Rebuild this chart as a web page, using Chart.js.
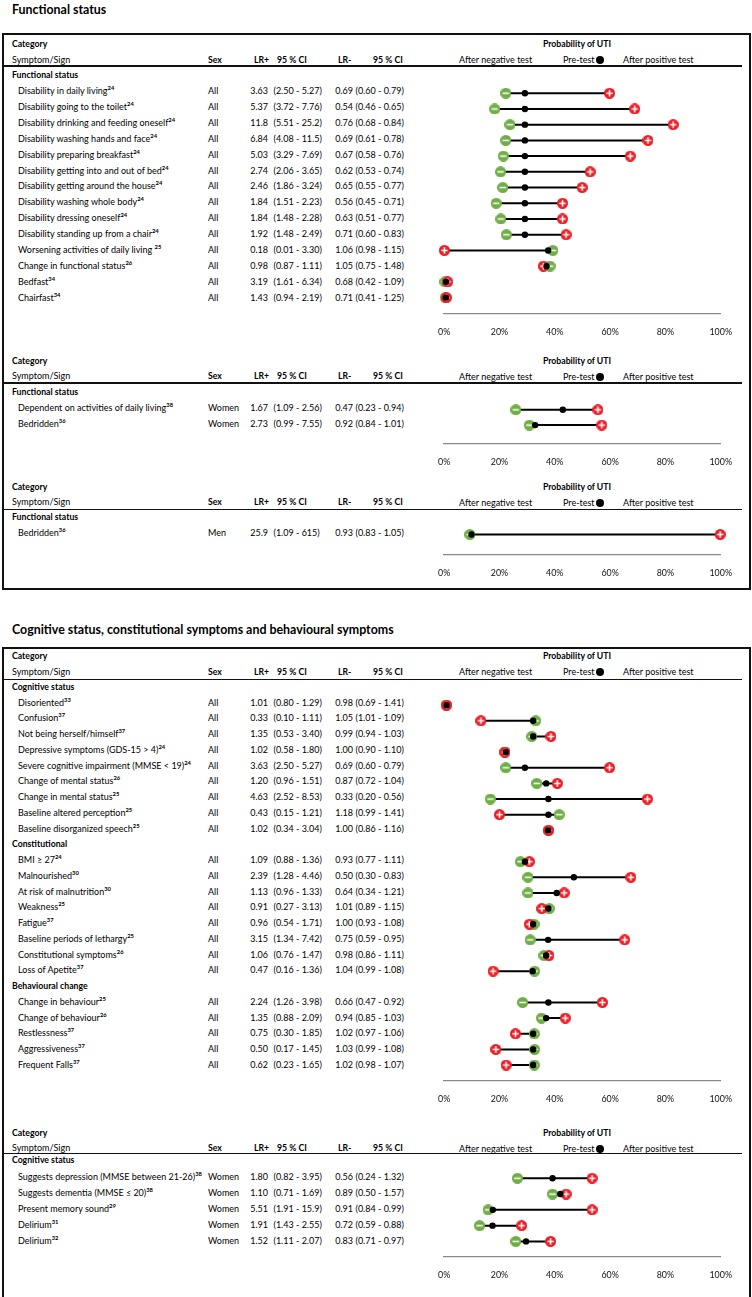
<!DOCTYPE html>
<html>
<head>
<meta charset="utf-8">
<script src="https://cdn.jsdelivr.net/npm/chart.js@4.4.0/dist/chart.umd.min.js"></script>
<style>
  body { margin: 0; background: #fff; }
  #page { position: relative; width: 752px; height: 1297px; overflow: hidden;
          font-family: Lato, "Liberation Sans", sans-serif; color: #000; }
  .t { position: absolute; white-space: nowrap; line-height: 16px; height: 16px; font-size: 9px; }
  .b { font-weight: bold; font-size: 8.7px; }
  .r { text-align: right; }
  .c { text-align: center; }
  .lg { font-size: 9px; }
  .h { font-size: 12.4px; line-height: 20px; height: 20px; font-weight: bold; }
  sup { font-size: 5.8px; vertical-align: 4px; line-height: 0; font-weight: bold; }
  .box { position: absolute; border: 2px solid #111; box-sizing: border-box; }
  .rule { position: absolute; height: 1.5px; background: #111; }
  .dot { position: absolute; width: 8px; height: 8px; border-radius: 50%; background: #000; }
  canvas { position: absolute; }
</style>
</head>
<body>
<div id="page"></div>
<script>
// ---- Functional status (all) ----
const p1Group = Array(14).fill('Functional status');
const p1Signs = ['Disability in daily living', 'Disability going to the toilet', 'Disability drinking and feeding oneself',
  'Disability washing hands and face', 'Disability preparing breakfast', 'Disability getting into and out of bed',
  'Disability getting around the house', 'Disability washing whole body', 'Disability dressing oneself',
  'Disability standing up from a chair', 'Worsening activities of daily living ', 'Change in functional status',
  'Bedfast', 'Chairfast'];
const p1Refs = ['24', '24', '24', '24', '24', '24', '24', '24', '24', '24', '25', '26', '34', '34'];
const p1Sex = Array(14).fill('All');
const p1LRpos = ['3.63', '5.37', '11.8', '6.84', '5.03', '2.74', '2.46', '1.84', '1.84', '1.92', '0.18', '0.98', '3.19', '1.43'];
const p1CIpos = ['2.50 - 5.27', '3.72 - 7.76', '5.51 - 25.2', '4.08 - 11.5', '3.29 - 7.69', '2.06 - 3.65', '1.86 - 3.24',
  '1.51 - 2.23', '1.48 - 2.28', '1.48 - 2.49', '0.01 - 3.30', '0.87 - 1.11', '1.61 - 6.34', '0.94 - 2.19'];
const p1LRneg = ['0.69', '0.54', '0.76', '0.69', '0.67', '0.62', '0.65', '0.56', '0.63', '0.71', '1.06', '1.05', '0.68', '0.71'];
const p1CIneg = ['0.60 - 0.79', '0.46 - 0.65', '0.68 - 0.84', '0.61 - 0.78', '0.58 - 0.76', '0.53 - 0.74', '0.55 - 0.77',
  '0.45 - 0.71', '0.51 - 0.77', '0.60 - 0.83', '0.98 - 1.15', '0.75 - 1.48', '0.42 - 1.09', '0.41 - 1.25'];
const p1Pre = [29.2, 29.2, 29.2, 29.2, 29.2, 29.2, 29.2, 29.2, 29.2, 29.2, 37.6, 37.0, 0.7, 0.6];
const p1Neg = [22.3, 18.3, 23.8, 22.3, 21.4, 20.4, 21.2, 18.8, 20.5, 22.5, 39.3, 38.3, 0.3, 0.4];
const p1Pos = [59.8, 68.9, 82.8, 73.7, 67.3, 52.8, 49.9, 42.8, 42.8, 44.1, 0.1, 35.9, 1.3, 0.8];

// ---- Functional status (women) ----
const p2Group = ['Functional status', 'Functional status'];
const p2Signs = ['Dependent on activities of daily living', 'Bedridden'];
const p2Refs = ['38', '36'];
const p2Sex = ['Women', 'Women'];
const p2LRpos = ['1.67', '2.73'];
const p2CIpos = ['1.09 - 2.56', '0.99 - 7.55'];
const p2LRneg = ['0.47', '0.92'];
const p2CIneg = ['0.23 - 0.94', '0.84 - 1.01'];
const p2Pre = [42.9, 32.9];
const p2Neg = [25.9, 30.8];
const p2Pos = [55.6, 57.0];

// ---- Functional status (men) ----
const p3Group = ['Functional status'];
const p3Signs = ['Bedridden'];
const p3Refs = ['36'];
const p3Sex = ['Men'];
const p3LRpos = ['25.9'];
const p3CIpos = ['1.09 - 615'];
const p3LRneg = ['0.93'];
const p3CIneg = ['0.83 - 1.05'];
const p3Pre = [9.9];
const p3Neg = [9.3];
const p3Pos = [99.8];

// ---- Cognitive / constitutional / behavioural (all) ----
const p4Group = [].concat(Array(9).fill('Cognitive status'), Array(8).fill('Constitutional'), Array(5).fill('Behavioural change'));
const p4Signs = ['Disoriented', 'Confusion', 'Not being herself/himself', 'Depressive symptoms (GDS-15 > 4)',
  'Severe cognitive impairment (MMSE < 19)', 'Change of mental status', 'Change in mental status',
  'Baseline altered perception', 'Baseline disorganized speech', 'BMI \u2265 27', 'Malnourished',
  'At risk of malnutrition', 'Weakness', 'Fatigue', 'Baseline periods of lethargy', 'Constitutional symptoms',
  'Loss of Apetite', 'Change in behaviour', 'Change of behaviour', 'Restlessness', 'Aggressiveness', 'Frequent Falls'];
const p4Refs = ['33', '37', '37', '24', '24', '26', '25', '25', '25', '24', '30', '30', '25', '37', '25', '26', '37',
  '25', '26', '37', '37', '37'];
const p4Sex = Array(22).fill('All');
const p4LRpos = ['1.01', '0.33', '1.35', '1.02', '3.63', '1.20', '4.63', '0.43', '1.02', '1.09', '2.39', '1.13', '0.91',
  '0.96', '3.15', '1.06', '0.47', '2.24', '1.35', '0.75', '0.50', '0.62'];
const p4CIpos = ['0.80 - 1.29', '0.10 - 1.11', '0.53 - 3.40', '0.58 - 1.80', '2.50 - 5.27', '0.96 - 1.51', '2.52 - 8.53',
  '0.15 - 1.21', '0.34 - 3.04', '0.88 - 1.36', '1.28 - 4.46', '0.96 - 1.33', '0.27 - 3.13', '0.54 - 1.71',
  '1.34 - 7.42', '0.76 - 1.47', '0.16 - 1.36', '1.26 - 3.98', '0.88 - 2.09', '0.30 - 1.85', '0.17 - 1.45', '0.23 - 1.65'];
const p4LRneg = ['0.98', '1.05', '0.99', '1.00', '0.69', '0.87', '0.33', '1.18', '1.00', '0.93', '0.50', '0.64', '1.01',
  '1.00', '0.75', '0.98', '1.04', '0.66', '0.94', '1.02', '1.03', '1.02'];
const p4CIneg = ['0.69 - 1.41', '1.01 - 1.09', '0.94 - 1.03', '0.90 - 1.10', '0.60 - 0.79', '0.72 - 1.04', '0.20 - 0.56',
  '0.99 - 1.41', '0.86 - 1.16', '0.77 - 1.11', '0.30 - 0.83', '0.34 - 1.21', '0.89 - 1.15', '0.93 - 1.08',
  '0.59 - 0.95', '0.86 - 1.11', '0.99 - 1.08', '0.47 - 0.92', '0.85 - 1.03', '0.97 - 1.06', '0.99 - 1.08', '0.98 - 1.07'];
const p4Pre = [0.9, 32.2, 32.2, 22.3, 29.2, 36.9, 37.7, 37.7, 37.6, 29.2, 46.9, 40.7, 37.7, 32.2, 37.6, 36.9, 32.0,
  37.7, 36.9, 32.2, 32.2, 32.2];
const p4Neg = [0.7, 33.1, 31.7, 21.9, 22.3, 33.5, 16.7, 41.6, 37.6, 27.6, 30.3, 30.3, 38.0, 32.5, 31.1, 36.1, 32.7,
  28.4, 35.2, 32.6, 32.7, 32.6];
const p4Pos = [0.9, 13.3, 38.6, 22.0, 59.8, 40.9, 73.5, 20.0, 37.8, 30.8, 67.5, 43.4, 35.3, 30.8, 65.3, 37.9, 17.7,
  57.2, 43.8, 25.8, 18.7, 22.4];

// ---- Cognitive status (women) ----
const p5Group = Array(5).fill('Cognitive status');
const p5Signs = ['Suggests depression (MMSE between 21-26)', 'Suggests dementia (MMSE \u2264 20)', 'Present memory sound',
  'Delirium', 'Delirium'];
const p5Refs = ['38', '38', '29', '31', '32'];
const p5Sex = Array(5).fill('Women');
const p5LRpos = ['1.80', '1.10', '5.51', '1.91', '1.52'];
const p5CIpos = ['0.82 - 3.95', '0.71 - 1.69', '1.91 - 15.9', '1.43 - 2.55', '1.11 - 2.07'];
const p5LRneg = ['0.56', '0.89', '0.91', '0.72', '0.83'];
const p5CIneg = ['0.24 - 1.32', '0.50 - 1.57', '0.84 - 0.99', '0.59 - 0.88', '0.71 - 0.97'];
const p5Pre = [39.2, 42.0, 17.6, 17.5, 29.6];
const p5Neg = [26.5, 39.2, 15.9, 12.8, 25.9];
const p5Pos = [53.5, 44.1, 53.5, 28.0, 38.5];

const xTicks = [0, 20, 40, 60, 80, 100];

Chart.defaults.font.family = 'Lato, "Liberation Sans", sans-serif';
Chart.defaults.color = '#111';

const page = document.getElementById('page');

function el(cls, x, y, w, h) {
  const d = document.createElement('div');
  d.className = cls;
  d.style.left = x + 'px';
  d.style.top = y + 'px';
  if (w != null) d.style.width = w + 'px';
  if (h != null) d.style.height = h + 'px';
  page.appendChild(d);
  return d;
}

// text centred vertically on cy
function txt(x, cy, html, cls = '', align = 'l') {
  let d;
  if (align === 'r') d = el('t r ' + cls, x - 120, cy - 8, 120);
  else if (align === 'c') d = el('t c ' + cls, x - 100, cy - 8, 200);
  else d = el('t ' + cls, x, cy - 8);
  d.innerHTML = html;
  return d;
}

function signIcon(color, plus) {
  const c = document.createElement('canvas');
  c.width = 11; c.height = 11;
  const g = c.getContext('2d');
  g.fillStyle = color;
  g.beginPath(); g.arc(5.5, 5.5, 5.5, 0, Math.PI * 2); g.fill();
  g.strokeStyle = '#fff'; g.lineWidth = 1.6;
  g.beginPath(); g.moveTo(2.3, 5.5); g.lineTo(8.7, 5.5);
  if (plus) { g.moveTo(5.5, 2.3); g.lineTo(5.5, 8.7); }
  g.stroke();
  return c;
}
const negIcon = signIcon('#6fae45', false);
const posIcon = signIcon('#ee1c25', true);

function buildPanel(d, g) {
  // table header
  txt(12, g.top, 'Category', 'b');
  txt(12, g.top + 15.5, 'Symptom/Sign');
  txt(208, g.top + 15.5, 'Sex', 'b');
  txt(254, g.top + 15.5, 'LR+', 'b');
  txt(277, g.top + 15.5, '95 % CI', 'b');
  txt(338, g.top + 15.5, 'LR-', 'b');
  txt(373, g.top + 15.5, '95 % CI', 'b');
  el('rule', 3, g.line - 0.75, 739);
  // plot header
  txt(577, g.top, 'Probability of UTI', 'b', 'c');
  txt(459, g.top + 16, 'After negative test', 'lg');
  txt(563, g.top + 16, 'Pre-test', 'lg');
  el('dot', 596, g.top + 12);
  txt(623, g.top + 16, 'After positive test', 'lg');

  // rows
  const groupY = g.firstRow - g.rowH;
  let idx = -1, last = null;
  const pre = [], neg = [], pos = [], seg = [];
  d.signs.forEach((s, i) => {
    if (d.group[i] !== last) {
      idx++;
      last = d.group[i];
      txt(12, groupY + idx * g.rowH, last, 'b');
    }
    idx++;
    const cy = groupY + idx * g.rowH;
    txt(18, cy, s + '<sup>' + d.refs[i] + '</sup>', 'lab');
    txt(208, cy, d.sex[i]);
    txt(268, cy, d.lrPos[i], '', 'r');
    txt(273.5, cy, '(' + d.ciPos[i] + ')');
    txt(353, cy, d.lrNeg[i], '', 'r');
    txt(355.5, cy, '(' + d.ciNeg[i] + ')');
    pre.push({ x: d.pre[i], y: idx });
    neg.push({ x: d.neg[i], y: idx });
    pos.push({ x: d.pos[i], y: idx });
    seg.push({ x: d.neg[i], y: idx }, { x: d.pos[i], y: idx }, { x: null, y: null });
  });

  const padTop = 4, axisH = 30;
  const cv = document.createElement('canvas');
  cv.width = 320;
  cv.height = Math.round(g.axisY - groupY + padTop + axisH);
  cv.style.left = '425px';
  cv.style.top = (groupY - padTop) + 'px';
  page.appendChild(cv);

  new Chart(cv, {
    type: 'scatter',
    data: {
      datasets: [
        { data: seg, showLine: true, borderColor: '#000', borderWidth: 2, pointRadius: 0, spanGaps: false, order: 4 },
        { data: neg, pointStyle: negIcon, pointRadius: 5.5, order: 3 },
        { data: pos, pointStyle: posIcon, pointRadius: 5.5, order: 2 },
        { data: pre, pointStyle: 'circle', pointRadius: 3.2, backgroundColor: '#000', borderWidth: 0, order: 1 }
      ]
    },
    options: {
      responsive: false,
      animation: false,
      clip: false,
      layout: { padding: { left: 16, right: 21, top: padTop, bottom: 0 } },
      plugins: { legend: { display: false }, tooltip: { enabled: false } },
      scales: {
        x: {
          type: 'linear', position: 'bottom', min: 0, max: 100,
          afterBuildTicks: s => { s.ticks = xTicks.map(v => ({ value: v })); },
          afterFit: s => { s.height = axisH; },
          ticks: { callback: v => v + '%', font: { size: 8.9 }, color: '#111', padding: 13 },
          grid: { display: false, drawTicks: false },
          border: { display: true, color: '#8a8a8a', width: 1.3 }
        },
        y: {
          type: 'linear', display: false, reverse: true, min: 0, max: (g.axisY - groupY) / g.rowH
        }
      }
    }
  });
}

// titles and boxes
txt(12, 8, 'Functional status', 'h');
el('box', 2, 33, 749, 557);
txt(12, 628, 'Cognitive status, constitutional symptoms and behavioural symptoms', 'h');
el('box', 2, 647, 749, 660);

const mk = (group, signs, refs, sex, lrPos, ciPos, lrNeg, ciNeg, pre, neg, pos) =>
  ({ group, signs, refs, sex, lrPos, ciPos, lrNeg, ciNeg, pre, neg, pos });

buildPanel(mk(p1Group, p1Signs, p1Refs, p1Sex, p1LRpos, p1CIpos, p1LRneg, p1CIneg, p1Pre, p1Neg, p1Pos),
  { top: 44, line: 66, firstRow: 91, rowH: 15.9, axisY: 314.3 });
buildPanel(mk(p2Group, p2Signs, p2Refs, p2Sex, p2LRpos, p2CIpos, p2LRneg, p2CIneg, p2Pre, p2Neg, p2Pos),
  { top: 360.7, line: 383, firstRow: 407.5, rowH: 16, axisY: 443.3 });
buildPanel(mk(p3Group, p3Signs, p3Refs, p3Sex, p3LRpos, p3CIpos, p3LRneg, p3CIneg, p3Pre, p3Neg, p3Pos),
  { top: 486.7, line: 509.5, firstRow: 533, rowH: 16, axisY: 555 });
buildPanel(mk(p4Group, p4Signs, p4Refs, p4Sex, p4LRpos, p4CIpos, p4LRneg, p4CIneg, p4Pre, p4Neg, p4Pos),
  { top: 656, line: 679.3, firstRow: 702.7, rowH: 15.75, axisY: 1081 });
buildPanel(mk(p5Group, p5Signs, p5Refs, p5Sex, p5LRpos, p5CIpos, p5LRneg, p5CIneg, p5Pre, p5Neg, p5Pos),
  { top: 1132.7, line: 1153.5, firstRow: 1176.5, rowH: 16.2, axisY: 1257.3 });
</script>
</body>
</html>
